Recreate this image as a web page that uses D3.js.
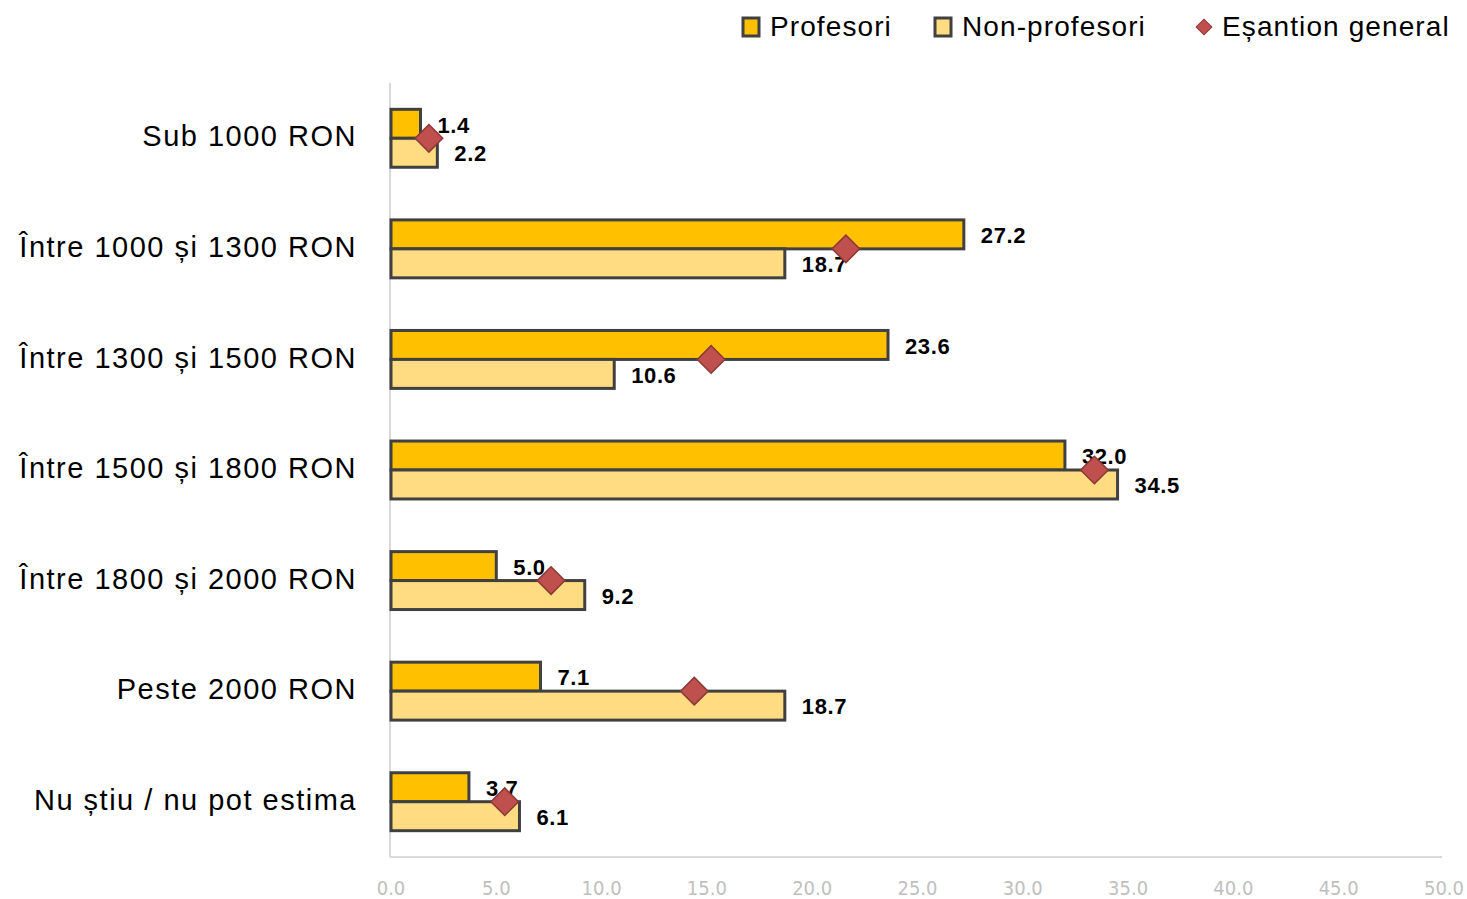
<!DOCTYPE html>
<html>
<head>
<meta charset="utf-8">
<script src="https://cdn.jsdelivr.net/npm/d3@7"></script>
<style>
  body { margin: 0; background: #fff; }
  svg { display: block; }
</style>
</head>
<body>
<svg id="chart"></svg>
<script>
// categories top to bottom
const categories = ['Sub 1000 RON', 'Între 1000 și 1300 RON', 'Între 1300 și 1500 RON',
  'Între 1500 și 1800 RON', 'Între 1800 și 2000 RON', 'Peste 2000 RON', 'Nu știu / nu pot estima'];
const profesori = [1.4, 27.2, 23.6, 32.0, 5.0, 7.1, 3.7];
const nonProfesori = [2.2, 18.7, 10.6, 34.5, 9.2, 18.7, 6.1];
const esantion = [1.8, 21.6, 15.2, 33.4, 7.6, 14.4, 5.4];
const xTicks = [0, 5, 10, 15, 20, 25, 30, 35, 40, 45, 50];
const seriesNames = ['Profesori', 'Non-profesori', 'Eșantion general'];

let svgWidth = 1467, svgHeight = 899;
let svg = d3.select('#chart').attr('width', svgWidth).attr('height', svgHeight);

let margin = {left: 391, right: 23, top: 83, bottom: 42};

let x = d3.scaleLinear().domain([0, 50]).range([margin.left, svgWidth - margin.right]);
let y = d3.scaleBand().domain(categories).range([margin.top, svgHeight - margin.bottom]).paddingInner(0.476).paddingOuter(0.238);
let sub = d3.scaleBand().domain(['p', 'n']).range([0, y.bandwidth()]);

// axis lines
svg.append('line')
  .attr('x1', x(0) - 1).attr('x2', x(0) - 1)
  .attr('y1', margin.top).attr('y2', svgHeight - margin.bottom)
  .attr('stroke', '#D9D9D9').attr('stroke-width', 2);
svg.append('line')
  .attr('x1', x(0) - 1).attr('x2', x(50) - 2)
  .attr('y1', svgHeight - margin.bottom).attr('y2', svgHeight - margin.bottom)
  .attr('stroke', '#D9D9D9').attr('stroke-width', 2);

// x tick labels
svg.append('g').selectAll('text')
  .data(xTicks).enter()
  .append('text')
  .attr('x', d => x(d))
  .attr('y', 895)
  .attr('text-anchor', 'middle')
  .attr('font-family', '"Liberation Sans Narrow", "DejaVu Sans Condensed", Arial, sans-serif')
  .attr('font-size', 20)
  .attr('fill', '#BFBFBF')
  .text(d => d.toFixed(1));

// category labels
svg.append('g').selectAll('text')
  .data(categories).enter()
  .append('text')
  .attr('x', 357)
  .attr('y', d => y(d) + y.bandwidth() / 2 - 2)
  .attr('dy', '0.35em')
  .attr('text-anchor', 'end')
  .attr('font-family', '"Liberation Sans", Arial, sans-serif')
  .attr('font-size', 29)
  .attr('letter-spacing', 1.5)
  .attr('fill', '#000')
  .text(d => d);

let fills = {p: '#FFC000', n: '#FFDC82'};
let rows = categories.map((c, i) => ({c, p: profesori[i], n: nonProfesori[i], e: esantion[i]}));

['p', 'n'].forEach(key => {
  svg.append('g').selectAll('rect')
    .data(rows).enter()
    .append('rect')
    .attr('x', x(0))
    .attr('y', d => y(d.c) + sub(key))
    .attr('width', d => x(d[key]) - x(0))
    .attr('height', sub.bandwidth())
    .attr('fill', fills[key])
    .attr('stroke', '#404040')
    .attr('stroke-width', 3);
});

// value labels
['p', 'n'].forEach(key => {
  svg.append('g').selectAll('text')
    .data(rows).enter()
    .append('text')
    .attr('x', d => x(d[key]) + 17)
    .attr('y', d => y(d.c) + sub(key) + sub.bandwidth() / 2 + 1)
    .attr('dy', '0.35em')
    .attr('font-family', '"Liberation Sans", Arial, sans-serif')
    .attr('font-weight', 'bold')
    .attr('font-size', 22)
    .attr('letter-spacing', 0.6)
    .attr('fill', '#000')
    .text(d => d[key].toFixed(1));
});

// diamonds for general sample
let diamond = d3.symbol().type(d3.symbolSquare).size(380);
svg.append('g').selectAll('path')
  .data(rows).enter()
  .append('path')
  .attr('d', diamond)
  .attr('transform', d => 'translate(' + x(d.e) + ',' + (y(d.c) + y.bandwidth() / 2) + ') rotate(45)')
  .attr('fill', '#C0504D')
  .attr('stroke', '#8C3836')
  .attr('stroke-width', 1.5);

// legend
let legend = svg.append('g').attr('font-family', '"Liberation Sans", Arial, sans-serif').attr('font-size', 28).attr('letter-spacing', 1.1);
let legendItems = [
  {name: seriesNames[0], x: 742, fill: fills.p},
  {name: seriesNames[1], x: 934, fill: fills.n}
];
legendItems.forEach(it => {
  legend.append('rect')
    .attr('x', it.x + 1).attr('y', 18).attr('width', 16).attr('height', 18)
    .attr('fill', it.fill).attr('stroke', '#404040').attr('stroke-width', 3);
  legend.append('text').attr('x', it.x + 28).attr('y', 26).attr('dy', '0.35em').text(it.name);
});
legend.append('path')
  .attr('d', d3.symbol().type(d3.symbolSquare).size(125))
  .attr('transform', 'translate(1204,27) rotate(45)')
  .attr('fill', '#C0504D').attr('stroke', '#8C3836').attr('stroke-width', 1);
legend.append('text').attr('x', 1222).attr('y', 26).attr('dy', '0.35em').text(seriesNames[2]);
</script>
</body>
</html>
